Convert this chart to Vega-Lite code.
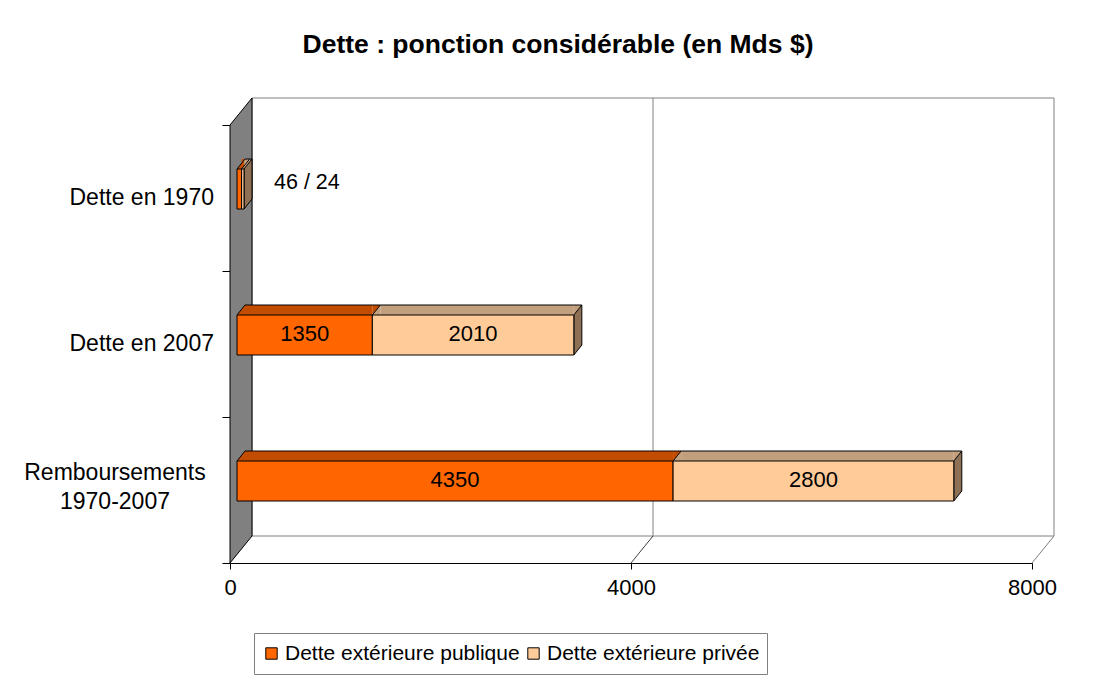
{
  "$schema": "https://vega.github.io/schema/vega-lite/v6.json",
  "width": 802,
  "height": 438,
  "autosize": {"type": "none"},
  "padding": {"left": 230, "top": 125, "right": 67, "bottom": 119},
  "background": "white",
  "title": {
    "text": "Dette : ponction considérable (en Mds $)",
    "anchor": "middle",
    "frame": "group",
    "dx": -73,
    "offset": 38,
    "font": "Liberation Sans",
    "fontSize": 26.5,
    "fontWeight": "bold",
    "color": "#000"
  },
  "config": {
    "view": {"stroke": null},
    "font": "Liberation Sans",
    "axis": {
      "domainColor": "#000",
      "tickColor": "#000",
      "labelColor": "#000",
      "labelFont": "Liberation Sans",
      "labelFontSize": 22,
      "zindex": 1,
      "grid": false
    },
    "legend": {
      "orient": "none",
      "legendX": 24,
      "legendY": 508,
      "direction": "horizontal",
      "symbolType": "square",
      "symbolSize": 130,
      "symbolStrokeColor": "#000",
      "symbolStrokeWidth": 1,
      "labelFont": "Liberation Sans",
      "labelFontSize": 21,
      "labelColor": "#000",
      "labelLimit": 400,
      "labelOffset": 3,
      "columnPadding": 3,
      "padding": 7,
      "clipHeight": 27,
      "strokeColor": "#808080",
      "fillColor": "#ffffff"
    }
  },
  "resolve": {"scale": {"y": "independent"}},
  "layer": [
    {
      "data": {"values": [{}]},
      "mark": {"type": "rect", "fill": "#ffffff", "stroke": "#808080", "strokeWidth": 1, "xOffset": 22, "x2Offset": 22, "yOffset": -27, "y2Offset": -27},
      "encoding": {
        "x": {"datum": 0, "type": "quantitative", "title": null},
        "x2": {"datum": 8000},
        "y": {"datum": 0, "type": "quantitative", "scale": {"domain": [0, 1]}, "axis": null},
        "y2": {"datum": 1}
      }
    },
    {
      "data": {"values": [{}]},
      "mark": {"type": "rule", "stroke": "#808080", "strokeWidth": 1, "xOffset": 22, "yOffset": -27, "y2Offset": -27},
      "encoding": {
        "x": {"datum": 4000, "type": "quantitative", "title": null},
        "y": {"datum": 0, "type": "quantitative", "scale": {"domain": [0, 1]}, "axis": null},
        "y2": {"datum": 1}
      }
    },
    {
      "data": {"values": [{}]},
      "mark": {"type": "rule", "stroke": "#404040", "strokeWidth": 1, "x2Offset": 22, "y2Offset": -27},
      "encoding": {
        "x": {"datum": 4000, "type": "quantitative", "title": null},
        "x2": {"datum": 4000},
        "y": {"datum": 0, "type": "quantitative", "scale": {"domain": [0, 1]}, "axis": null},
        "y2": {"datum": 0}
      }
    },
    {
      "data": {"values": [{}]},
      "mark": {"type": "rule", "stroke": "#808080", "strokeWidth": 1, "x2Offset": 22, "y2Offset": -27},
      "encoding": {
        "x": {"datum": 8000, "type": "quantitative", "title": null},
        "x2": {"datum": 8000},
        "y": {"datum": 0, "type": "quantitative", "scale": {"domain": [0, 1]}, "axis": null},
        "y2": {"datum": 0}
      }
    },
    {
      "data": {"values": [{}]},
      "mark": {"type": "point", "shape": "M0,-0.876L0.088,-0.984L0.088,0.768L0,0.876Z", "size": 250000, "filled": true, "color": "#808080", "fill": "#808080", "stroke": "#000000", "strokeWidth": 1, "opacity": 1},
      "encoding": {
        "x": {"datum": 0, "type": "quantitative", "title": null},
        "y": {"datum": 0.5, "type": "quantitative", "scale": {"domain": [0, 1]}, "axis": null}
      }
    },
    {
      "data": {
        "values": [
          {"cat": "Dette en 1970", "serie": "Dette extérieure publique", "value": 46},
          {"cat": "Dette en 1970", "serie": "Dette extérieure privée", "value": 24},
          {"cat": "Dette en 2007", "serie": "Dette extérieure publique", "value": 1350},
          {"cat": "Dette en 2007", "serie": "Dette extérieure privée", "value": 2010},
          {"cat": "Remboursements\n1970-2007", "serie": "Dette extérieure publique", "value": 4350},
          {"cat": "Remboursements\n1970-2007", "serie": "Dette extérieure privée", "value": 2800}
        ]
      },
      "transform": [
        {"stack": "value", "groupby": ["cat"], "sort": [{"field": "serie", "order": "descending"}], "as": ["v0", "v1"]}
      ],
      "layer": [
        {
          "transform": [{"filter": "datum.cat != 'Dette en 1970'"}],
          "mark": {"type": "bar", "size": 10, "xOffset": 15, "x2Offset": 7, "yOffset": -34},
          "encoding": {
            "x": {"field": "v0", "type": "quantitative", "title": null},
            "x2": {"field": "v1"},
            "y": {"field": "cat", "type": "nominal", "title": null, "scale": {"domain": ["Dette en 1970", "Dette en 2007", "Remboursements\n1970-2007"], "paddingInner": 0, "paddingOuter": 0}},
            "color": {"condition": {"test": "datum.serie == 'Dette extérieure publique'", "value": "#C24D00"}, "value": "#C2A07E"}
          }
        },
        {
          "mark": {"type": "point", "shape": "M0,0L0.8,0L0.8,-1Z", "size": 400, "filled": true, "opacity": 1, "strokeWidth": 0, "xOffset": 7, "yOffset": -29},
          "encoding": {
            "x": {"field": "v0", "type": "quantitative", "title": null},
            "y": {"field": "cat", "type": "nominal", "title": null, "scale": {"domain": ["Dette en 1970", "Dette en 2007", "Remboursements\n1970-2007"], "paddingInner": 0, "paddingOuter": 0}},
            "color": {"condition": {"test": "datum.serie == 'Dette extérieure publique'", "value": "#C24D00"}, "value": "#C2A07E"}
          }
        },
        {
          "mark": {"type": "point", "shape": "M0,0L0.8,-1L0,-1Z", "size": 400, "filled": true, "opacity": 1, "strokeWidth": 0, "xOffset": 7, "yOffset": -29},
          "encoding": {
            "x": {"field": "v1", "type": "quantitative", "title": null},
            "y": {"field": "cat", "type": "nominal", "title": null, "scale": {"domain": ["Dette en 1970", "Dette en 2007", "Remboursements\n1970-2007"], "paddingInner": 0, "paddingOuter": 0}},
            "color": {"condition": {"test": "datum.serie == 'Dette extérieure publique'", "value": "#C24D00"}, "value": "#C2A07E"}
          }
        },
        {
          "mark": {"type": "rule", "stroke": "#000", "strokeWidth": 1, "xOffset": 15, "x2Offset": 15, "yOffset": -39},
          "encoding": {
            "x": {"field": "v0", "type": "quantitative", "title": null},
            "x2": {"field": "v1"},
            "y": {"field": "cat", "type": "nominal", "title": null, "scale": {"domain": ["Dette en 1970", "Dette en 2007", "Remboursements\n1970-2007"], "paddingInner": 0, "paddingOuter": 0}}
          }
        },
        {
          "mark": {"type": "point", "shape": "M0,0L0.8,-1", "size": 400, "filled": false, "opacity": 1, "stroke": "#000", "strokeWidth": 1, "xOffset": 7, "yOffset": -29},
          "encoding": {
            "x": {"field": "v0", "type": "quantitative", "title": null},
            "y": {"field": "cat", "type": "nominal", "title": null, "scale": {"domain": ["Dette en 1970", "Dette en 2007", "Remboursements\n1970-2007"], "paddingInner": 0, "paddingOuter": 0}}
          }
        },
        {
          "transform": [{"filter": "datum.serie == 'Dette extérieure privée'"}],
          "mark": {"type": "point", "shape": "M0,0L0.8,-1L0.8,3L0,4Z", "size": 400, "filled": true, "opacity": 1, "color": "#8E7155", "fill": "#8E7155", "stroke": "#000", "strokeWidth": 1, "xOffset": 7, "yOffset": -29},
          "encoding": {
            "x": {"field": "v1", "type": "quantitative", "title": null},
            "y": {"field": "cat", "type": "nominal", "title": null, "scale": {"domain": ["Dette en 1970", "Dette en 2007", "Remboursements\n1970-2007"], "paddingInner": 0, "paddingOuter": 0}}
          }
        },
        {
          "mark": {"type": "bar", "size": 40, "stroke": "#000", "strokeWidth": 1, "xOffset": 7, "x2Offset": 7, "yOffset": -9},
          "encoding": {
            "x": {
              "field": "v0", "type": "quantitative",
              "scale": {"domain": [0, 8000], "nice": false},
              "axis": {"values": [0, 4000, 8000], "format": "d", "title": null, "tickSize": 6, "labelPadding": 8, "labelFlush": false, "labelOverlap": false}
            },
            "x2": {"field": "v1"},
            "y": {
              "field": "cat", "type": "nominal",
              "scale": {"domain": ["Dette en 1970", "Dette en 2007", "Remboursements\n1970-2007"], "paddingInner": 0, "paddingOuter": 0},
              "axis": {"labels": false, "title": null, "tickBand": "extent", "tickSize": 8}
            },
            "color": {
              "field": "serie", "type": "nominal",
              "scale": {"domain": ["Dette extérieure publique", "Dette extérieure privée"], "range": ["#FF6600", "#FFCC99"]},
              "legend": {"title": null}
            }
          }
        },
        {
          "transform": [
            {"filter": "datum.cat != 'Dette en 1970'"},
            {"fold": ["v0", "v1"], "as": ["bord", "pos"]},
            {"aggregate": [{"op": "mean", "field": "pos", "as": "mid"}], "groupby": ["cat", "serie", "value"]}
          ],
          "mark": {"type": "text", "font": "Liberation Sans", "fontSize": 22, "color": "#000", "xOffset": 7, "yOffset": -10, "align": "center", "baseline": "middle"},
          "encoding": {
            "x": {"field": "mid", "type": "quantitative", "title": null},
            "y": {"field": "cat", "type": "nominal", "title": null, "scale": {"domain": ["Dette en 1970", "Dette en 2007", "Remboursements\n1970-2007"], "paddingInner": 0, "paddingOuter": 0}},
            "text": {"field": "value", "type": "quantitative", "format": "d"}
          }
        },
        {
          "transform": [{"filter": "datum.cat == 'Dette en 1970' && datum.serie == 'Dette extérieure privée'"}],
          "mark": {"type": "text", "font": "Liberation Sans", "fontSize": 21.5, "color": "#000", "xOffset": 37, "yOffset": -15, "align": "left", "baseline": "middle"},
          "encoding": {
            "x": {"field": "v1", "type": "quantitative", "title": null},
            "y": {"field": "cat", "type": "nominal", "title": null, "scale": {"domain": ["Dette en 1970", "Dette en 2007", "Remboursements\n1970-2007"], "paddingInner": 0, "paddingOuter": 0}},
            "text": {"value": "46 / 24"}
          }
        },
        {
          "transform": [{"filter": "datum.serie == 'Dette extérieure publique' && indexof(datum.cat, 'Remb') < 0"}],
          "mark": {"type": "text", "font": "Liberation Sans", "fontSize": 23, "color": "#000", "xOffset": -16, "align": "right", "baseline": "middle"},
          "encoding": {
            "x": {"datum": 0, "type": "quantitative", "title": null},
            "y": {"field": "cat", "type": "nominal", "title": null, "scale": {"domain": ["Dette en 1970", "Dette en 2007", "Remboursements\n1970-2007"], "paddingInner": 0, "paddingOuter": 0}},
            "text": {"field": "cat"}
          }
        },
        {
          "transform": [{"filter": "datum.serie == 'Dette extérieure publique' && indexof(datum.cat, 'Remb') >= 0"}],
          "mark": {"type": "text", "font": "Liberation Sans", "fontSize": 23, "color": "#000", "xOffset": -115, "yOffset": -17, "align": "center", "baseline": "middle", "lineBreak": "\n", "lineHeight": 29},
          "encoding": {
            "x": {"datum": 0, "type": "quantitative", "title": null},
            "y": {"field": "cat", "type": "nominal", "title": null, "scale": {"domain": ["Dette en 1970", "Dette en 2007", "Remboursements\n1970-2007"], "paddingInner": 0, "paddingOuter": 0}},
            "text": {"field": "cat"}
          }
        }
      ]
    }
  ]
}
